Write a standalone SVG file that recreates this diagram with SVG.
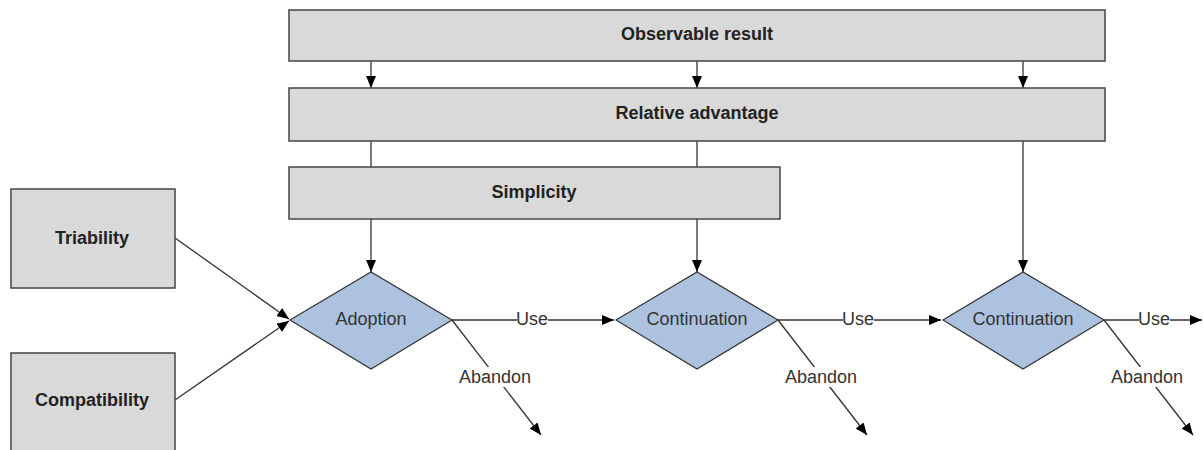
<svg xmlns="http://www.w3.org/2000/svg" width="1203" height="450" viewBox="0 0 1203 450">
  <style>
    .box { fill: #d9d9d9; stroke: #444; stroke-width: 1.5; }
    .dia { fill: #adc2de; stroke: #333; stroke-width: 1.2; }
    .lbl { font-family: "Liberation Sans", Arial, sans-serif; font-size: 18px; font-weight: bold; fill: #222; text-anchor: middle; dominant-baseline: central; }
    .dlbl { font-family: "Liberation Sans", Arial, sans-serif; font-size: 18px; fill: #333; text-anchor: middle; dominant-baseline: central; }
    .edge { fill: none; stroke: #333; stroke-width: 1.3; }
    .elbl { font-family: "Liberation Sans", Arial, sans-serif; font-size: 18px; fill: #333; text-anchor: middle; dominant-baseline: central; }
  </style>
  <defs>
    <marker id="arrow" viewBox="0 0 12 10" refX="12" refY="5" markerWidth="12" markerHeight="10" markerUnits="userSpaceOnUse" orient="auto">
      <path d="M0,0 L12,5 L0,10 Z" fill="#000"/>
    </marker>
  </defs>

  <rect width="1203" height="450" fill="#fff"/>

  <!-- connectors -->
  <g id="connectors">
    <line class="edge" x1="371" y1="61" x2="371" y2="88" marker-end="url(#arrow)"/>
    <line class="edge" x1="697" y1="61" x2="697" y2="88" marker-end="url(#arrow)"/>
    <line class="edge" x1="1023" y1="61" x2="1023" y2="88" marker-end="url(#arrow)"/>
    <line class="edge" x1="371" y1="141" x2="371" y2="167"/>
    <line class="edge" x1="697" y1="141" x2="697" y2="167"/>
    <line class="edge" x1="371" y1="219" x2="371" y2="272" marker-end="url(#arrow)"/>
    <line class="edge" x1="697" y1="219" x2="697" y2="272" marker-end="url(#arrow)"/>
    <line class="edge" x1="1023" y1="141" x2="1023" y2="272" marker-end="url(#arrow)"/>
    <line class="edge" x1="175" y1="238" x2="289" y2="319" marker-end="url(#arrow)"/>
    <line class="edge" x1="175" y1="400" x2="289" y2="321" marker-end="url(#arrow)"/>

    <line class="edge" x1="452" y1="320" x2="614" y2="320" marker-end="url(#arrow)"/>
    <line class="edge" x1="778" y1="320" x2="941" y2="320" marker-end="url(#arrow)"/>
    <line class="edge" x1="1104" y1="320" x2="1202" y2="320" marker-end="url(#arrow)"/>
    <line class="edge" x1="452" y1="320" x2="541" y2="435" marker-end="url(#arrow)"/>
    <line class="edge" x1="778" y1="320" x2="867" y2="435" marker-end="url(#arrow)"/>
    <line class="edge" x1="1104" y1="320" x2="1193" y2="435" marker-end="url(#arrow)"/>

    <rect x="517" y="311" width="31" height="18" fill="#fff"/>
    <text class="elbl" x="532" y="319">Use</text>
    <rect x="843" y="311" width="31" height="18" fill="#fff"/>
    <text class="elbl" x="858" y="319">Use</text>
    <rect x="1139" y="311" width="31" height="18" fill="#fff"/>
    <text class="elbl" x="1154" y="319">Use</text>

    <rect x="458" y="367" width="74" height="20" fill="#fff"/>
    <text class="elbl" x="495" y="377">Abandon</text>
    <rect x="784" y="367" width="74" height="20" fill="#fff"/>
    <text class="elbl" x="821" y="377">Abandon</text>
    <rect x="1110" y="367" width="74" height="20" fill="#fff"/>
    <text class="elbl" x="1147" y="377">Abandon</text>
  </g>

  <g id="observable">
    <rect class="box" x="289" y="10" width="816" height="51"/>
    <text class="lbl" x="697" y="34">Observable result</text>
  </g>
  <g id="relative">
    <rect class="box" x="289" y="88" width="816" height="53"/>
    <text class="lbl" x="697" y="113">Relative advantage</text>
  </g>
  <g id="simplicity">
    <rect class="box" x="289" y="167" width="491" height="52"/>
    <text class="lbl" x="534" y="192">Simplicity</text>
  </g>
  <g id="triability">
    <rect class="box" x="11" y="189" width="164" height="99"/>
    <text class="lbl" x="92" y="238">Triability</text>
  </g>
  <g id="compatibility">
    <rect class="box" x="11" y="353" width="164" height="110"/>
    <text class="lbl" x="92" y="400">Compatibility</text>
  </g>

  <g id="adoption">
    <polygon class="dia" points="290,320 371,272 452,320 371,369"/>
    <text class="dlbl" x="371" y="319">Adoption</text>
  </g>
  <g id="continuation1">
    <polygon class="dia" points="616,320 697,272 778,320 697,369"/>
    <text class="dlbl" x="697" y="319">Continuation</text>
  </g>
  <g id="continuation2">
    <polygon class="dia" points="943,320 1023,272 1104,320 1023,369"/>
    <text class="dlbl" x="1023" y="319">Continuation</text>
  </g>
</svg>
